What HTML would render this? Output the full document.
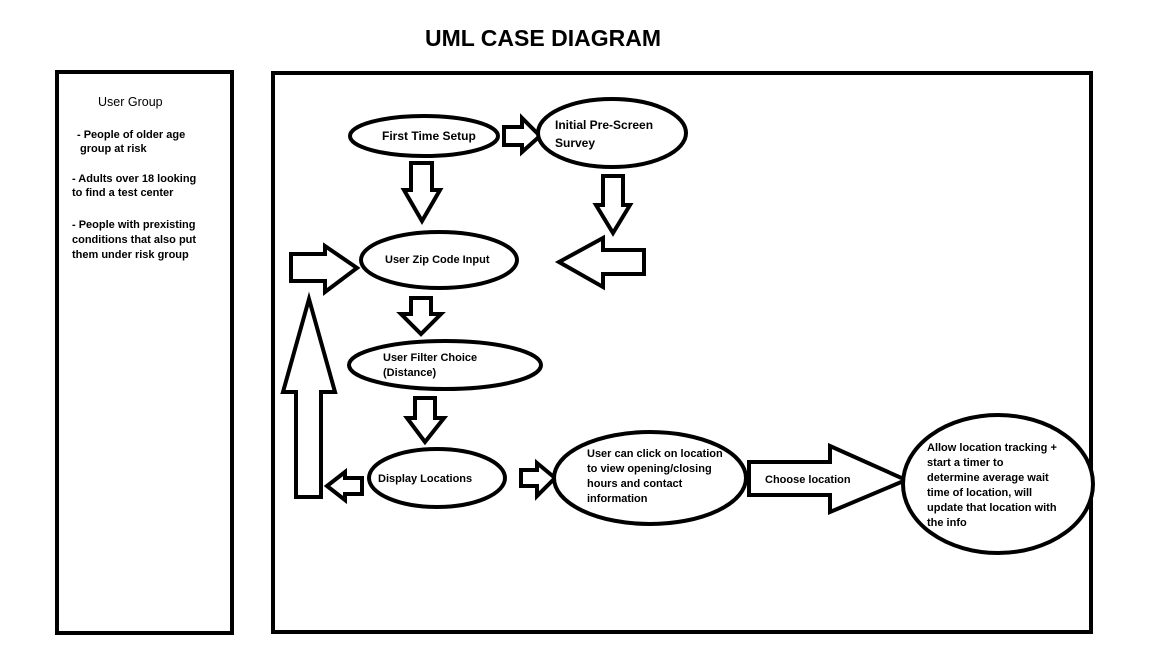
<!DOCTYPE html>
<html><head><style>
html,body{margin:0;padding:0;background:#fff;}
svg{display:block;}
text{font-family:"Liberation Sans",sans-serif;fill:#000;}
.b{font-weight:bold;font-size:11px;}
</style></head><body>
<svg width="1152" height="648" viewBox="0 0 1152 648" xmlns="http://www.w3.org/2000/svg">
<rect width="1152" height="648" fill="#fff"/>
<text x="543" y="46" text-anchor="middle" style="font-weight:bold;font-size:23px">UML CASE DIAGRAM</text>
<g fill="none" stroke="#000" stroke-width="4">
<rect x="57" y="72" width="175" height="561"/>
<rect x="273" y="73" width="818" height="559"/>
</g>
<text x="98" y="106" style="font-size:12.5px">User Group</text>
<g class="b">
<text x="77" y="138" class="b">- People of older age</text>
<text x="80" y="152" class="b">group at risk</text>
<text x="72" y="182" class="b">- Adults over 18 looking</text>
<text x="72" y="196" class="b">to find a test center</text>
<text x="72" y="228" class="b">- People with prexisting</text>
<text x="72" y="243" class="b">conditions that also put</text>
<text x="72" y="258" class="b">them under risk group</text>
</g>
<g fill="#fff" stroke="#000" stroke-width="4" stroke-linejoin="miter">
<!-- arrows -->
<polygon points="504,127 522,127 522,118 540,136 522,152 522,145 504,145"/>
<polygon points="411,163 432,163 432,190 440,190 422,221 404,190 411,190"/>
<polygon points="603,176 623,176 623,205 630,205 613,233 596,205 603,205"/>
<polygon points="291,254 325,254 325,246 357,268 325,292 325,281 291,281"/>
<polygon points="644,250 603,250 603,238 559,262 603,287 603,274 644,274"/>
<polygon points="411,298 431,298 431,314 441,314 421,334 401,314 411,314"/>
<polygon points="415,398 435,398 435,418 444,418 425,442 407,418 415,418"/>
<polygon points="296,497 321,497 321,392 335,392 309,299 283,392 296,392"/>
<polygon points="362,478 345,478 345,472 327,486 345,500 345,494 362,494"/>
<polygon points="521,470 537,470 537,463 555,478 537,496 537,486 521,486"/>
<polygon points="749,462 830,462 830,446 906,480 830,512 830,495 749,495"/>
<!-- ellipses -->
<ellipse cx="424" cy="136" rx="74" ry="20"/>
<ellipse cx="612" cy="133" rx="74" ry="34"/>
<ellipse cx="439" cy="260" rx="78" ry="28"/>
<ellipse cx="445" cy="365" rx="96" ry="24"/>
<ellipse cx="437" cy="478" rx="68" ry="29"/>
<ellipse cx="650" cy="478" rx="96" ry="46"/>
<ellipse cx="998" cy="484" rx="95" ry="69"/>
</g>
<g class="b">
<text x="382" y="140" class="b" style="font-size:12px">First Time Setup</text>
<text x="555" y="129" class="b" style="font-size:12px">Initial Pre-Screen</text>
<text x="555" y="147" class="b" style="font-size:12px">Survey</text>
<text x="385" y="263" class="b">User Zip Code Input</text>
<text x="383" y="361" class="b">User Filter Choice</text>
<text x="383" y="376" class="b">(Distance)</text>
<text x="378" y="482" class="b">Display Locations</text>
<text x="587" y="457" class="b">User can click on location</text>
<text x="587" y="472" class="b">to view opening/closing</text>
<text x="587" y="487" class="b">hours and contact</text>
<text x="587" y="502" class="b">information</text>
<text x="765" y="483" class="b">Choose location</text>
<text x="927" y="451" class="b">Allow location tracking +</text>
<text x="927" y="466" class="b">start a timer to</text>
<text x="927" y="481" class="b">determine average wait</text>
<text x="927" y="496" class="b">time of location, will</text>
<text x="927" y="511" class="b">update that location with</text>
<text x="927" y="526" class="b">the info</text>
</g>
</svg>
</body></html>
